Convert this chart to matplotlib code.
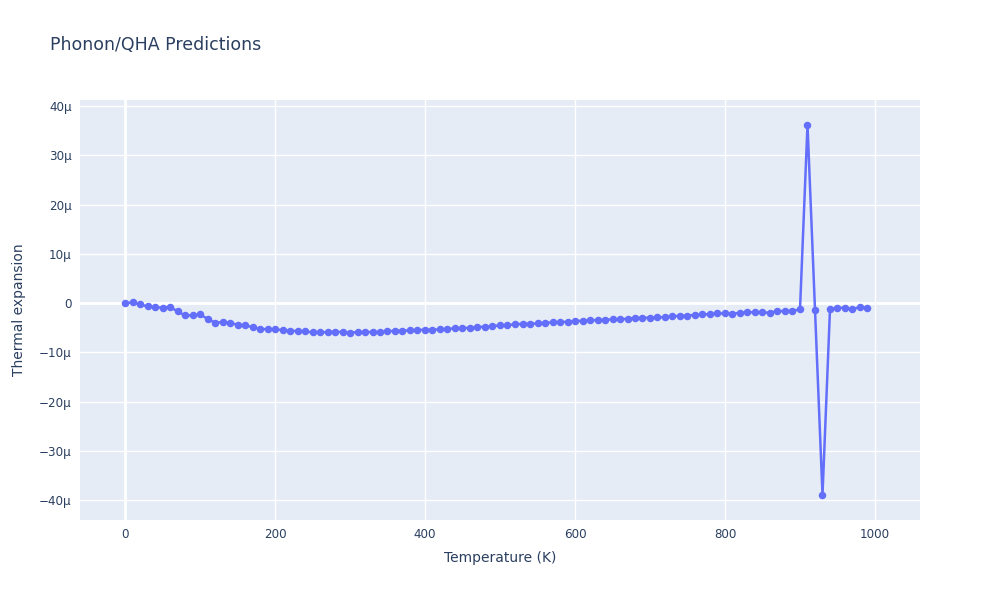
import numpy as np
import matplotlib.pyplot as plt
from matplotlib.ticker import FuncFormatter

# temperature grid (K) and thermal expansion values (in units of 1e-6)
temperature = np.arange(0, 1000, 10)
alpha_micro = [
    0.0, 0.14, -0.27, -0.68, -0.81, -0.95, -0.74, -1.69, -2.5, -2.5,
    -2.3, -3.17, -3.98, -3.85, -3.98, -4.39, -4.52, -4.86, -5.27, -5.27,
    -5.33, -5.47, -5.6, -5.67, -5.74, -5.94, -5.94, -5.87, -5.8, -5.87,
    -6.0, -5.87, -5.87, -5.87, -5.87, -5.74, -5.6, -5.6, -5.54, -5.47,
    -5.4, -5.4, -5.33, -5.2, -5.13, -5.07, -5.0, -4.86, -4.8, -4.66,
    -4.52, -4.46, -4.32, -4.19, -4.19, -4.12, -3.98, -3.92, -3.85, -3.78,
    -3.65, -3.58, -3.51, -3.44, -3.37, -3.31, -3.31, -3.17, -3.04, -2.97,
    -2.97, -2.9, -2.83, -2.7, -2.56, -2.56, -2.36, -2.3, -2.23, -2.09,
    -2.09, -2.16, -1.95, -1.89, -1.82, -1.89, -1.95, -1.62, -1.62, -1.55,
    -1.28, 36.2, -1.35, -38.9, -1.21, -0.95, -0.95, -1.28, -0.74, -0.95,
]
alpha = np.array(alpha_micro) * 1e-6

title = "Phonon/QHA Predictions"
xlabel = "Temperature (K)"
ylabel = "Thermal expansion"

bg = '#E5ECF6'
txt = '#2a3f5f'
line_c = '#636EFA'

fig = plt.figure(figsize=(10, 6), dpi=100)
ax = fig.add_axes([0.08, 0.1333, 0.84, 0.70])
ax.set_facecolor(bg)

ax.plot(temperature, alpha, '-o', color=line_c, lw=1.8, ms=4.4, zorder=3)

ax.set_xlim(-60, 1060)
ax.set_ylim(-44.0e-6, 41.2e-6)
ax.set_xticks([0, 200, 400, 600, 800, 1000])
ax.set_yticks(np.arange(-40, 41, 10) * 1e-6)

def fmt_y(v, pos):
    n = int(round(v * 1e6))
    if n == 0:
        return '0'
    s = '{}µ'.format(abs(n))
    return ('\u2212' + s) if n < 0 else s

ax.yaxis.set_major_formatter(FuncFormatter(fmt_y))
ax.grid(True, color='white', lw=1.0, zorder=0)
ax.set_axisbelow(True)
ax.axhline(0, color='white', lw=2, zorder=1)
ax.axvline(0, color='white', lw=2, zorder=1)

for s in ax.spines.values():
    s.set_visible(False)
ax.tick_params(length=0, colors=txt, labelsize=8.6, pad=6)

ax.set_xlabel(xlabel, fontsize=10, color=txt, labelpad=7)
ax.set_ylabel(ylabel, fontsize=10, color=txt, labelpad=9)
fig.text(0.05, 0.925, title, fontsize=12.5, color=txt, va='center')

plt.savefig('out.png', dpi=100, facecolor='white')
